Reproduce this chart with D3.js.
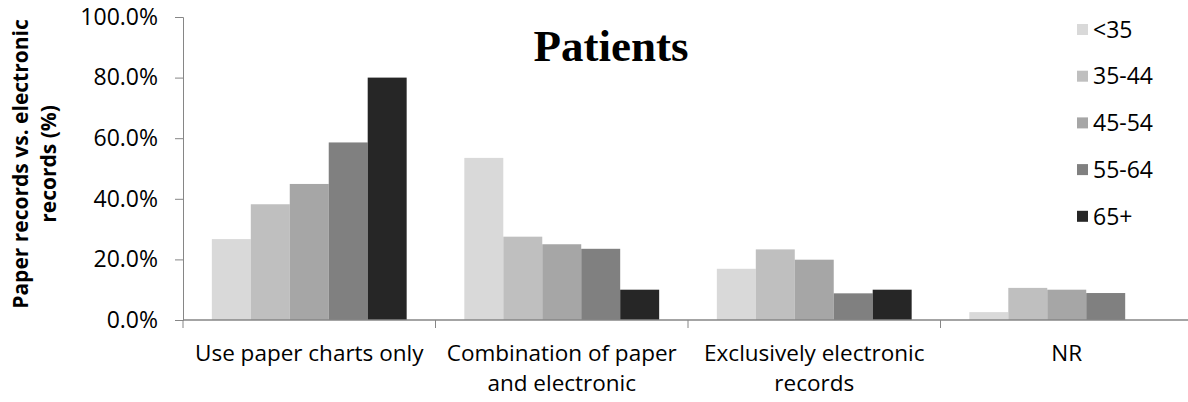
<!DOCTYPE html>
<html>
<head>
<meta charset="utf-8">
<script src="https://cdn.jsdelivr.net/npm/d3@7"></script>
<style>
  html, body { margin: 0; padding: 0; background: #fff; }
  svg { display: block; }
  text { font-family: "Open Sans", "Noto Sans", sans-serif; fill: #000; }
</style>
</head>
<body>
<svg id="chart" width="1188" height="402"></svg>
<script>
// Record-keeping method by patient age group
const categories = [
  ["Use paper charts only"],
  ["Combination of paper", "and electronic"],
  ["Exclusively electronic", "records"],
  ["NR"]
];
const ageGroups = ["<35", "35-44", "45-54", "55-64", "65+"];
const under35 = [26.7, 53.5, 16.9, 2.6];
const age35to44 = [38.2, 27.5, 23.3, 10.6];
const age45to54 = [44.9, 25.0, 19.9, 10.0];
const age55to64 = [58.6, 23.5, 8.8, 8.9];
const age65plus = [80.0, 10.0, 10.0, 0];
const yTicks = [0, 20, 40, 60, 80, 100];

const series = [under35, age35to44, age45to54, age55to64, age65plus];
const colors = ["#d9d9d9", "#bfbfbf", "#a6a6a6", "#808080", "#262626"];

const svg = d3.select("#chart");
const plotLeft = 183, plotRight = 1193, plotTop = 17, plotBottom = 320;
const fontSize = "23px";

const x0 = d3.scaleBand().domain(d3.range(categories.length)).range([plotLeft, plotRight]).paddingInner(0).paddingOuter(0);
const x1 = d3.scaleBand().domain(d3.range(ageGroups.length)).range([0, x0.bandwidth()]).paddingOuter(0.74).paddingInner(0);
const y = d3.scaleLinear().domain([0, 100]).range([plotBottom, plotTop]);

// Bars
const groups = svg.append("g").selectAll("g")
  .data(categories.map((c, i) => i))
  .join("g")
  .attr("transform", i => `translate(${x0(i)},0)`);

groups.selectAll("rect")
  .data(i => series.map((s, k) => ({ k, v: s[i] })))
  .join("rect")
  .attr("x", d => x1(d.k))
  .attr("width", x1.bandwidth())
  .attr("y", d => y(d.v))
  .attr("height", d => plotBottom - y(d.v))
  .attr("fill", d => colors[d.k]);

// Y axis
const yAxis = svg.append("g")
  .attr("transform", `translate(${plotLeft},0)`)
  .call(d3.axisLeft(y).tickValues(yTicks).tickSize(8).tickPadding(17).tickFormat(d => d3.format(".1f")(d) + "%"));
yAxis.select(".domain").attr("stroke", "#868686");
yAxis.selectAll(".tick line").attr("stroke", "#868686");
yAxis.selectAll(".tick text").style("font-size", fontSize).attr("fill", "#000");

// X axis with ticks at category boundaries
const xAxis = svg.append("g");
xAxis.append("line")
  .attr("x1", plotLeft).attr("x2", plotRight)
  .attr("y1", plotBottom).attr("y2", plotBottom)
  .attr("stroke", "#868686").attr("stroke-width", 1.5);
xAxis.selectAll("line.tk")
  .data(d3.range(categories.length + 1))
  .join("line")
  .attr("class", "tk")
  .attr("x1", i => plotLeft + i * x0.bandwidth()).attr("x2", i => plotLeft + i * x0.bandwidth())
  .attr("y1", plotBottom).attr("y2", plotBottom + 8)
  .attr("stroke", "#868686");

// Category labels (two-line labels drawn as separate text rows)
const labelRows = categories.flatMap((lines, i) => lines.map((t, j) => ({ i, j, t })));
svg.append("g").selectAll("text")
  .data(labelRows)
  .join("text")
  .attr("text-anchor", "middle")
  .attr("x", d => x0(d.i) + x0.bandwidth() / 2)
  .attr("y", d => 361 + d.j * 30)
  .style("font-size", "22.5px")
  .text(d => d.t);

// Y axis title
const yTitle = svg.append("text")
  .attr("transform", `translate(0,164) rotate(-90)`)
  .attr("text-anchor", "middle")
  .style("font-size", "21px")
  .style("font-weight", "bold");
yTitle.append("tspan").attr("x", 0).attr("y", 28).text("Paper records vs. electronic");
yTitle.append("tspan").attr("x", 0).attr("y", 56).text("records (%)");

// Chart title
svg.append("text")
  .attr("x", 611).attr("y", 61)
  .attr("text-anchor", "middle")
  .style("font-family", "'Liberation Serif', 'Times New Roman', serif")
  .style("font-size", "45px")
  .style("font-weight", "bold")
  .text("Patients");

// Legend
const legend = svg.append("g").selectAll("g")
  .data(ageGroups)
  .join("g")
  .attr("transform", (d, i) => `translate(1077,${29.5 + i * 46.7})`);
legend.append("rect")
  .attr("x", 0).attr("y", -5.5).attr("width", 11).attr("height", 11)
  .attr("fill", (d, i) => colors[i]);
legend.append("text")
  .attr("x", 16).attr("y", 0).attr("dy", "0.36em")
  .style("font-size", fontSize)
  .text(d => d);
</script>
</body>
</html>
